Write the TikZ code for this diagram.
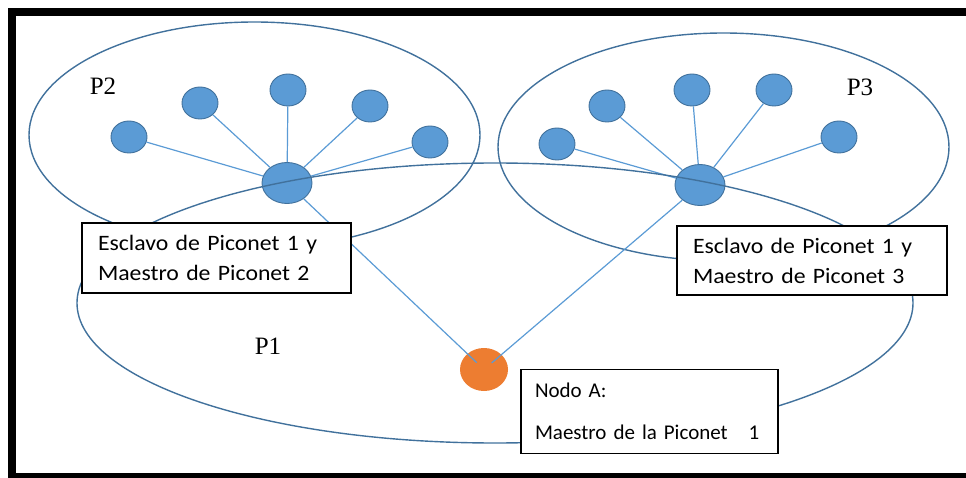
\documentclass[tikz,border=0pt]{standalone}
\usepackage{fontspec}
\setmainfont{Liberation Serif}
\newfontfamily\boxfont[FakeStretch=1.08]{Carlito}
\newfontfamily\notefont{Carlito}
\usepackage{xcolor}
\usetikzlibrary{shapes.geometric}
\definecolor{NodeBlue}{HTML}{5B9BD5}
\definecolor{RimBlue}{HTML}{41719C}
\definecolor{HubOrange}{HTML}{ED7D31}
\newcommand{\slvw}{36pt}
\newcommand{\slvh}{32pt}
\newcommand{\mstw}{50pt}
\newcommand{\msth}{41pt}
\newcommand{\pcrx}{225.5pt}
\newcommand{\boxsep}{16pt}
\tikzset{
  slave/.style={ellipse, draw=RimBlue, line width=0.9pt, fill=NodeBlue,
    inner sep=0pt, minimum width=\slvw, minimum height=\slvh},
  master/.style={slave, minimum width=\mstw, minimum height=\msth},
  hub/.style={ellipse, fill=HubOrange, inner sep=0pt,
    minimum width=48pt, minimum height=43pt},
  link/.style={draw=NodeBlue, line width=1.2pt},
  piconet/.style={draw=RimBlue, line width=1.4pt},
  infobox/.style={draw=black, line width=1.3pt, fill=white, align=left,
    inner xsep=\boxsep, inner ysep=0pt,
    font=\boxfont\fontsize{22}{30}\selectfont},
  netlabel/.style={inner sep=0pt, font=\fontsize{25}{30}\selectfont}
}

\begin{document}
\begin{tikzpicture}[x=1pt,y=-1pt]
    \useasboundingbox (0,0) rectangle (966,478);

    \draw [piconet] (254.5,135) ellipse [x radius=\pcrx, y radius=113pt];
    \draw [piconet] (723.5,147) ellipse [x radius=\pcrx, y radius=114pt];

    \node (s21) at (129,137) [slave] {};
    \node (s22) at (200,103) [slave] {};
    \node (s23) at (288,90) [slave] {};
    \node (s24) at (370,106) [slave] {};
    \node (s25) at (430,142) [slave] {};
    \node (m2) at (287,183) [master] {};

    \node (s31) at (557,144) [slave] {};
    \node (s32) at (607,106) [slave] {};
    \node (s33) at (692,90) [slave] {};
    \node (s34) at (774,90) [slave] {};
    \node (s35) at (839,137) [slave] {};
    \node (m3) at (700,185) [master] {};

    \node (nodoa) at (484,369.5) [hub] {};

    \foreach \s in {s21,s22,s23,s24,s25}
      \draw [link] (m2) -- (\s);
    \foreach \s in {s31,s32,s33,s34,s35}
      \draw [link] (m3) -- (\s);
    \draw [link, shorten >=10pt] (m2) -- (nodoa.center);
    \draw [link, shorten >=10pt] (m3) -- (nodoa.center);

    \draw [piconet] (495,303) ellipse [x radius=418pt, y radius=140pt];

    \node (lp2) at (103,86.5) [netlabel] {P2};
    \node (lp3) at (860,87) [netlabel] {P3};
    \node (lp1) at (268,346) [netlabel] {P1};

    \node (esc2) at (216.5,258) [infobox, text width=237pt, minimum height=70pt]
      {Esclavo de Piconet 1 y\\Maestro de Piconet 2};
    \node (esc3) at (812,260.5) [infobox, text width=238pt, minimum height=69pt]
      {Esclavo de Piconet 1 y\\Maestro de Piconet 3};
    \node (info) at (649.5,411.5) [infobox, inner xsep=14pt, text width=229pt,
      minimum height=84pt, font=\notefont\fontsize{21}{42}\selectfont]
      {Nodo A:\\Maestro de la Piconet\hspace{21pt}1};

    \draw [line width=8pt] (1000,12) -- (12,12) -- (12,477) -- (1000,477);
\end{tikzpicture}
\end{document}
